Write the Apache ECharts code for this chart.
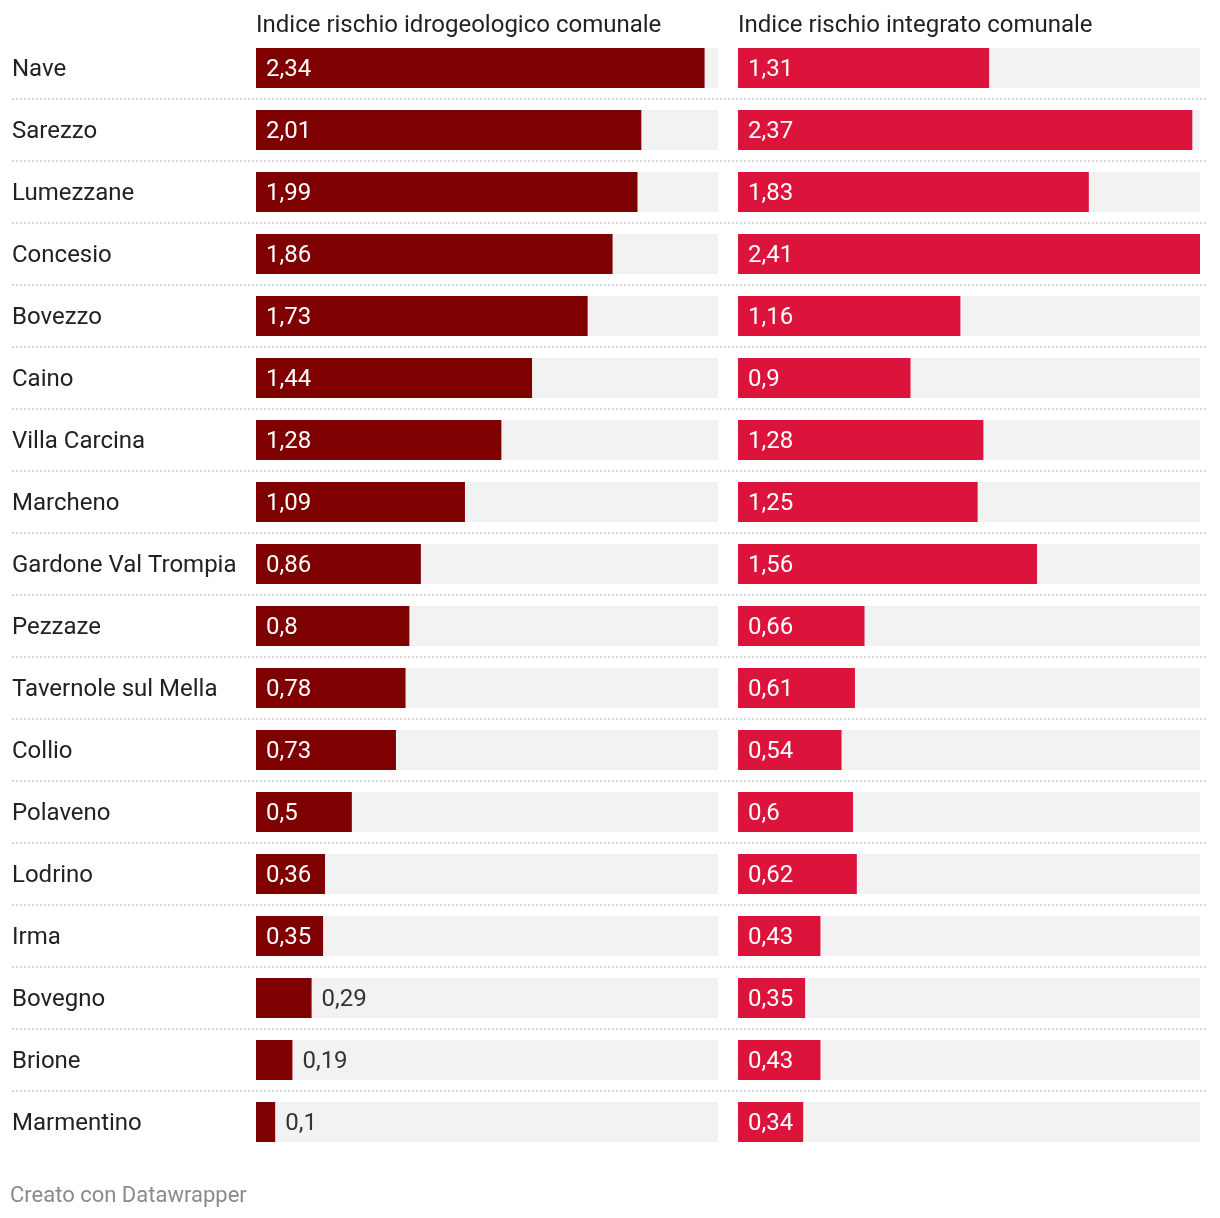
<!DOCTYPE html>
<html><head><meta charset="utf-8">
<script src="https://cdn.jsdelivr.net/npm/echarts@6/dist/echarts.min.js"></script>
<style>html,body{margin:0;padding:0;background:#fff}#c{width:1220px;height:1218px}</style>
</head><body><div id="c"></div>
<script>
const categories = ["Nave","Sarezzo","Lumezzane","Concesio","Bovezzo","Caino","Villa Carcina","Marcheno","Gardone Val Trompia","Pezzaze","Tavernole sul Mella","Collio","Polaveno","Lodrino","Irma","Bovegno","Brione","Marmentino"];
const idrogeologico = [2.34,2.01,1.99,1.86,1.73,1.44,1.28,1.09,0.86,0.8,0.78,0.73,0.5,0.36,0.35,0.29,0.19,0.1];
const integrato = [1.31,2.37,1.83,2.41,1.16,0.9,1.28,1.25,1.56,0.66,0.61,0.54,0.6,0.62,0.43,0.35,0.43,0.34];
const titles = ["Indice rischio idrogeologico comunale","Indice rischio integrato comunale"];
const footer = "Creato con Datawrapper";

const FONT = 'Roboto';
const AXMAX = 2.41;
const fmt = v => String(v).replace('.', ',');
function items(arr){
  return arr.map(v => v < 0.3 ? {value:v, label:{position:'right', distance:10, color:'#333'}} : {value:v});
}
function barSeries(idx, data, color){
  return {
    type:'bar', xAxisIndex:idx, yAxisIndex:idx, data:items(data), barWidth:40,
    itemStyle:{color:color}, showBackground:true, backgroundStyle:{color:'#f2f2f2'},
    label:{show:true, position:'insideLeft', distance:10, color:'#fff', fontFamily:FONT, fontSize:24,
      offset:[0,2], formatter:p=>fmt(p.value)},
    silent:true, animation:false
  };
}
const chart = echarts.init(document.getElementById('c'), null, {renderer:'canvas'});
chart.setOption({
  animation:false,
  textStyle:{fontFamily:FONT},
  title:[
    {text:titles[0], left:256, top:13, padding:0, textStyle:{fontFamily:FONT, fontSize:24, lineHeight:26, fontWeight:'normal', color:'#222'}},
    {text:titles[1], left:738, top:13, padding:0, textStyle:{fontFamily:FONT, fontSize:24, lineHeight:26, fontWeight:'normal', color:'#222'}},
    {text:footer, left:10, top:1184, padding:0, textStyle:{fontFamily:FONT, fontSize:22, lineHeight:24, fontWeight:'normal', color:'#8a8a8a'}}
  ],
  grid:[
    {left:256, width:462, top:37, height:1116},
    {left:738, width:462, top:37, height:1116},
    {left:12, width:1196, top:99, height:992}
  ],
  xAxis:[
    {gridIndex:0, type:'value', min:0, max:AXMAX, show:false},
    {gridIndex:1, type:'value', min:0, max:AXMAX, show:false},
    {gridIndex:2, type:'value', min:0, max:1, show:false}
  ],
  yAxis:[
    {gridIndex:0, type:'category', data:categories, inverse:true,
      axisLine:{show:false}, axisTick:{show:false}, splitLine:{show:false},
      axisLabel:{align:'left', margin:244, formatter:v=>'{a|'+v+'}',
        rich:{a:{fontFamily:FONT, fontSize:24, color:'#222', padding:[4,0,0,0]}}}},
    {gridIndex:1, type:'category', data:categories, inverse:true, show:false},
    {gridIndex:2, type:'category', data:categories.slice(1), inverse:true, boundaryGap:false,
      axisLine:{show:false}, axisTick:{show:false}, axisLabel:{show:false},
      splitLine:{show:true, lineStyle:{color:'#d6d6d6', width:2, type:[2,2]}}}
  ],
  series:[
    barSeries(0, idrogeologico, '#7f0000'),
    barSeries(1, integrato, '#dc143c')
  ]
});
</script></body></html>
